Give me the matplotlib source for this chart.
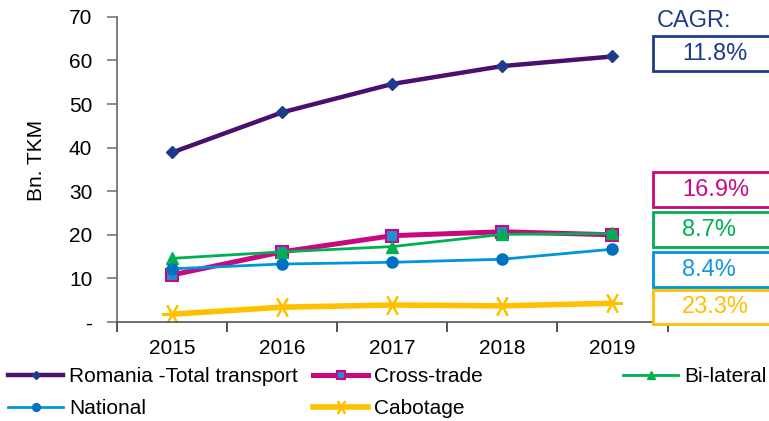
import matplotlib
matplotlib.use("Agg")
import matplotlib.pyplot as plt
from matplotlib.patches import Rectangle

plt.rcParams['font.family'] = ['Liberation Sans', 'DejaVu Sans']

years = ["2015", "2016", "2017", "2018", "2019"]
total = [38.9, 48.1, 54.6, 58.7, 60.9]
cross_trade = [10.8, 16.1, 19.8, 20.7, 20.0]
bilateral = [14.6, 16.1, 17.3, 20.1, 20.3]
national = [12.2, 13.3, 13.7, 14.4, 16.7]
cabotage = [1.8, 3.4, 3.9, 3.7, 4.3]
cagr_labels = ["11.8%", "16.9%", "8.7%", "8.4%", "23.3%"]
ytick_vals = [0, 10, 20, 30, 40, 50, 60, 70]
ytick_labels = ["-", "10", "20", "30", "40", "50", "60", "70"]

W, H = 769, 421
fig = plt.figure(figsize=(W / 100, H / 100), dpi=100)
ax = fig.add_axes([117.3 / W, 1 - 322 / H, 550.2 / W, 305.2 / H])

x = list(range(len(years)))
c_purple = '#4B0F6E'
c_navy = '#1F3C8C'
c_mag = '#C8087F'
c_green = '#00B050'
c_blue = '#0096DB'
c_yel = '#FFC000'

l_tot, = ax.plot(x, total, color=c_purple, lw=3.2, marker='D', ms=6,
                 mfc=c_navy, mec=c_navy, label='Romania -Total transport')
l_cross, = ax.plot(x, cross_trade, color=c_mag, lw=3.6, marker='s', ms=8,
                   mfc='#1E8FD6', mec=c_mag, mew=1.5, label='Cross-trade')
l_bi, = ax.plot(x, bilateral, color=c_green, lw=2.0, marker='^', ms=8,
                mfc=c_green, mec=c_green, label='Bi-lateral')
l_nat, = ax.plot(x, national, color=c_blue, lw=2.0, marker='o', ms=8,
                 mfc='#0070C0', mec='#0070C0', label='National')
l_cab, = ax.plot(x, cabotage, color=c_yel, lw=4.0, marker=(6, 2, 90), ms=15,
                 mfc=c_yel, mec=c_yel, mew=1.5, label='Cabotage')

ax.set_xlim(-0.5, len(years) - 0.5)
ax.set_ylim(0, 70)
ax.set_xticks(x)
ax.set_xticklabels(years, fontsize=15)
ax.set_xticks([i - 0.5 for i in range(len(years) + 1)], minor=True)
ax.tick_params(axis='x', which='major', length=0, pad=12)
ax.tick_params(axis='x', which='minor', length=7, width=1.2, color='#333333', direction='out')
ax.set_yticks(ytick_vals)
ax.set_yticklabels(ytick_labels, fontsize=15)
ax.tick_params(axis='y', length=7, width=1.2, color='#777777', direction='out', pad=11)
for s in ['top', 'right']:
    ax.spines[s].set_visible(False)
ax.spines['left'].set_color('#666666')
ax.spines['bottom'].set_color('#555555')
ax.spines['left'].set_linewidth(1.2)
ax.spines['bottom'].set_linewidth(1.2)

fig.text(37 / W, 1 - 160 / H, 'Bn. TKM', rotation=90, fontsize=15,
         ha='center', va='center')

# Legends
common = dict(frameon=False, fontsize=15, handlelength=2.65, handletextpad=0.3,
              labelspacing=0.62, borderpad=0, borderaxespad=0, loc='upper left',
              markerscale=0.7)
top = 1 - 367 / H
fig.legend(handles=[l_tot, l_nat], bbox_to_anchor=(8 / W, top), **common)
fig.legend(handles=[l_cross, l_cab], bbox_to_anchor=(313 / W, top), **common)
fig.legend(handles=[l_bi], bbox_to_anchor=(623 / W, top), **common)

# CAGR boxes
fig.text(657 / W, 1 - 21 / H, 'CAGR:', fontsize=17, color=c_navy, ha='left', va='center')
box_specs = [(36, 71, c_navy), (172, 207, c_mag), (212, 247, c_green),
             (252, 287, c_blue), (290, 324, c_yel)]
txt_cols = [c_navy, '#CC0A86', c_green, '#1497DB', c_yel]
for (y0, y1, ec), lab, tc in zip(box_specs, cagr_labels, txt_cols):
    r = Rectangle((653 / W, 1 - y1 / H), 120 / W, (y1 - y0) / H,
                  transform=fig.transFigure, fill=True, facecolor='white',
                  edgecolor=ec, lw=2.0, zorder=5)
    fig.add_artist(r)
    fig.text(682 / W, 1 - (y0 + y1) / 2 / H, lab, fontsize=17, color=tc,
             ha='left', va='center', zorder=6)

fig.savefig('out.png', dpi=100)
